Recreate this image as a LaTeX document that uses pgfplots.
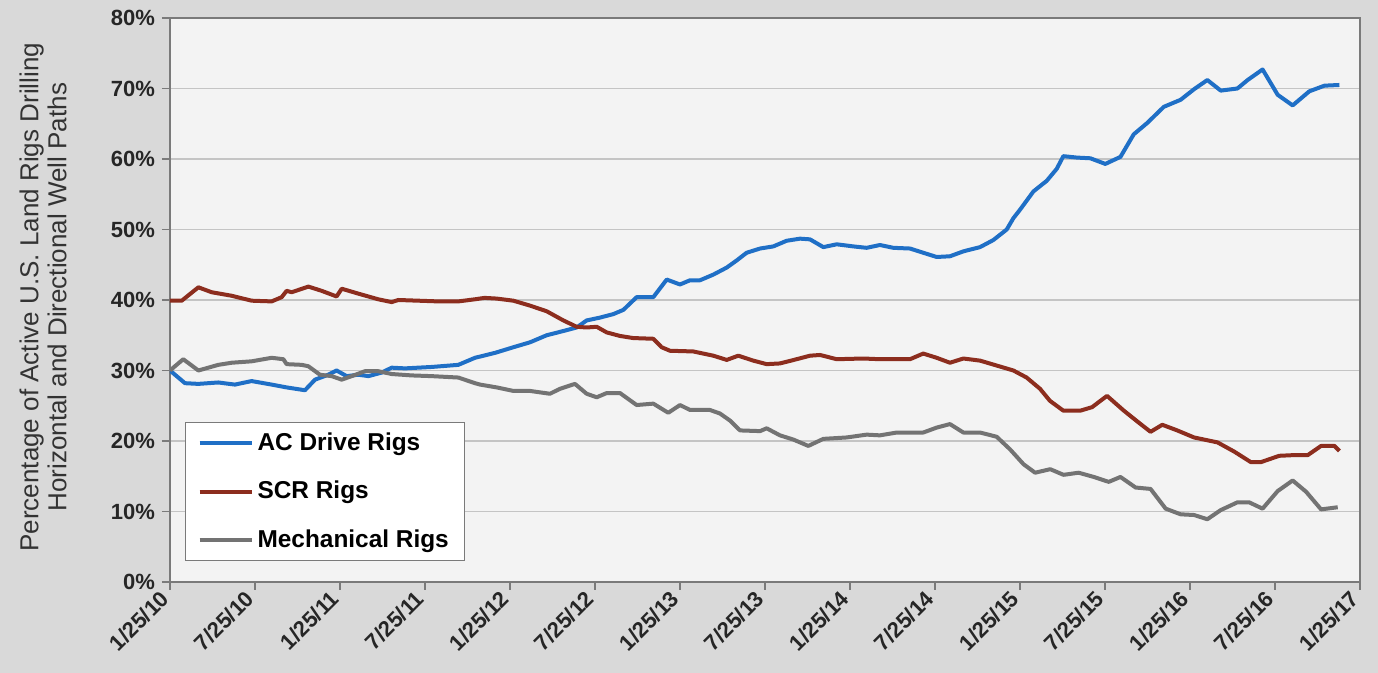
\documentclass[border=0pt]{standalone}
\usepackage{fontspec}
\setmainfont{Liberation Sans}
\usepackage{pgfplots}
\pgfplotsset{compat=1.18}

\definecolor{bgout}{HTML}{D9D9D9}
\definecolor{plotbg}{HTML}{F3F3F3}
\definecolor{acblue}{HTML}{1F6FC6}
\definecolor{scrred}{HTML}{8C2D1E}
\definecolor{mechgray}{HTML}{737373}
\definecolor{gridc}{HTML}{C4C4C4}
\definecolor{axisc}{HTML}{7A7A7A}

\begin{document}
\begin{tikzpicture}[x=1pt,y=1pt]
\fill[bgout] (0,0) rectangle (689,336.5);
\begin{axis}[
  at={(85pt,45.5pt)}, anchor=south west,
  width=595pt, height=282pt, scale only axis,
  xmin=0, xmax=7, ymin=0, ymax=80,
  xtick={0,0.5,1,1.5,2,2.5,3,3.5,4,4.5,5,5.5,6,6.5,7},
  xticklabels={1/25/10,7/25/10,1/25/11,7/25/11,1/25/12,7/25/12,1/25/13,7/25/13,1/25/14,7/25/14,1/25/15,7/25/15,1/25/16,7/25/16,1/25/17},
  ytick={0,10,...,80},
  yticklabel={\pgfmathprintnumber{\tick}\%},
  /pgf/number format/assume math mode=true,
  ymajorgrids, grid style={gridc, line width=0.9pt},
  axis background/.style={fill=plotbg},
  axis line style={axisc, line width=0.8pt},
  tick align=outside, major tick length=4pt,
  tick style={axisc, line width=0.7pt},
  xtick pos=bottom, ytick pos=left,
  yticklabel style={font=\bfseries\fontsize{11}{12}\selectfont, text=black!85},
  xticklabel style={font=\bfseries\fontsize{11}{12}\selectfont, text=black!85, rotate=45, anchor=east},
  ylabel={Percentage of Active U.S. Land Rigs Drilling\\Horizontal and Directional Well Paths},
  ylabel style={align=center, font=\fontsize{13}{14}\selectfont, text=black!80,
    at={(axis description cs:-0.1067,0.505)}, anchor=center},
  legend style={at={(0.0126,0.2837)}, anchor=north west, draw=axisc, fill=white,
    line width=0.6pt, font=\bfseries\fontsize{12.2}{14}\selectfont,
    row sep=10pt, inner xsep=6pt, inner ysep=3pt, cells={anchor=west}},
  legend image code/.code={\draw[#1, line width=2pt] (0pt,0pt) -- (26pt,0pt);},
  every axis plot/.append style={line width=2pt, line join=round},
]

\addplot[acblue] coordinates {
(0.000,30.0) (0.088,28.2) (0.167,28.1) (0.284,28.3) (0.382,28.0) (0.480,28.5)
(0.598,28.0) (0.686,27.6) (0.794,27.2) (0.853,28.7) (0.931,29.4) (0.980,30.0)
(1.039,29.2) (1.108,29.4) (1.167,29.2) (1.245,29.7) (1.304,30.4) (1.382,30.3)
(1.539,30.5) (1.696,30.8) (1.794,31.8) (1.912,32.5) (2.020,33.3) (2.118,34.0)
(2.216,35.0) (2.314,35.6) (2.392,36.1) (2.451,37.1) (2.529,37.5) (2.608,38.0)
(2.667,38.6) (2.745,40.4) (2.843,40.4) (2.922,42.9) (3.000,42.2) (3.059,42.8)
(3.118,42.8) (3.196,43.6) (3.275,44.6) (3.333,45.6) (3.392,46.7) (3.471,47.3)
(3.549,47.6) (3.627,48.4) (3.706,48.7) (3.765,48.6) (3.843,47.5) (3.922,47.9)
(4.020,47.6) (4.098,47.4) (4.176,47.8) (4.255,47.4) (4.353,47.3) (4.431,46.7)
(4.510,46.1) (4.588,46.2) (4.667,46.9) (4.765,47.5) (4.843,48.5) (4.922,50.0)
(4.961,51.6) (5.000,52.8) (5.079,55.4) (5.157,56.9) (5.216,58.6) (5.255,60.4)
(5.335,60.2) (5.414,60.1) (5.502,59.3) (5.591,60.3) (5.669,63.5) (5.748,65.1)
(5.846,67.4) (5.945,68.4) (6.024,69.9) (6.102,71.2) (6.181,69.7) (6.279,70.0)
(6.339,71.2) (6.427,72.7) (6.516,69.1) (6.604,67.6) (6.702,69.6) (6.791,70.4)
(6.879,70.5)
};
\addlegendentry{AC Drive Rigs}

\addplot[scrred] coordinates {
(0.000,39.9) (0.069,39.9) (0.167,41.8) (0.245,41.1) (0.363,40.6) (0.480,39.9)
(0.598,39.8) (0.657,40.4) (0.686,41.3) (0.716,41.1) (0.814,41.9) (0.892,41.3)
(0.980,40.5) (1.010,41.6) (1.108,40.9) (1.225,40.1) (1.304,39.7) (1.343,40.0)
(1.461,39.9) (1.578,39.8) (1.696,39.8) (1.794,40.1) (1.850,40.3) (1.922,40.2)
(2.020,39.9) (2.118,39.2) (2.216,38.4) (2.314,37.1) (2.392,36.2) (2.451,36.1)
(2.510,36.2) (2.569,35.4) (2.647,34.9) (2.725,34.6) (2.843,34.5) (2.892,33.3)
(2.941,32.8) (3.078,32.7) (3.196,32.1) (3.275,31.5) (3.343,32.1) (3.431,31.4)
(3.510,30.9) (3.588,31.0) (3.686,31.6) (3.765,32.1) (3.824,32.2) (3.922,31.6)
(4.078,31.7) (4.176,31.6) (4.353,31.6) (4.431,32.4) (4.510,31.8) (4.588,31.1)
(4.667,31.7) (4.765,31.4) (4.863,30.7) (4.961,30.0) (5.039,29.0) (5.118,27.4)
(5.176,25.7) (5.255,24.3) (5.355,24.3) (5.424,24.8) (5.512,26.4) (5.611,24.3)
(5.699,22.6) (5.768,21.3) (5.837,22.3) (5.925,21.5) (6.024,20.5) (6.162,19.8)
(6.260,18.5) (6.358,17.0) (6.417,17.0) (6.525,17.9) (6.614,18.0) (6.693,18.0)
(6.771,19.3) (6.850,19.3) (6.879,18.6)
};
\addlegendentry{SCR Rigs}

\addplot[mechgray] coordinates {
(0.000,30.0) (0.078,31.6) (0.167,30.0) (0.284,30.8) (0.363,31.1) (0.480,31.3)
(0.598,31.8) (0.667,31.6) (0.686,30.9) (0.775,30.8) (0.814,30.6) (0.882,29.4)
(0.951,29.2) (1.010,28.7) (1.069,29.2) (1.147,29.9) (1.225,29.9) (1.304,29.5)
(1.422,29.3) (1.539,29.2) (1.696,29.0) (1.794,28.2) (1.824,28.0) (1.922,27.6)
(2.020,27.1) (2.118,27.1) (2.235,26.7) (2.294,27.4) (2.382,28.1) (2.451,26.7)
(2.510,26.2) (2.569,26.8) (2.647,26.8) (2.745,25.1) (2.843,25.3) (2.931,24.0)
(3.000,25.1) (3.059,24.4) (3.176,24.4) (3.235,23.9) (3.294,22.9) (3.353,21.5)
(3.471,21.4) (3.510,21.8) (3.588,20.8) (3.667,20.2) (3.755,19.3) (3.843,20.3)
(3.980,20.5) (4.098,20.9) (4.176,20.8) (4.275,21.2) (4.431,21.2) (4.510,21.9)
(4.588,22.4) (4.667,21.2) (4.765,21.2) (4.863,20.6) (4.942,18.8) (5.021,16.7)
(5.089,15.5) (5.178,16.0) (5.256,15.2) (5.345,15.5) (5.434,14.9) (5.522,14.2)
(5.591,14.9) (5.680,13.4) (5.768,13.2) (5.857,10.4) (5.945,9.6) (6.024,9.5)
(6.102,8.9) (6.181,10.2) (6.279,11.3) (6.348,11.3) (6.427,10.4) (6.516,12.9)
(6.604,14.4) (6.683,12.8) (6.771,10.3) (6.869,10.6)
};
\addlegendentry{Mechanical Rigs}

\end{axis}
\pgfresetboundingbox
\useasboundingbox (0,0) rectangle (689,336.5);
\end{tikzpicture}
\end{document}
